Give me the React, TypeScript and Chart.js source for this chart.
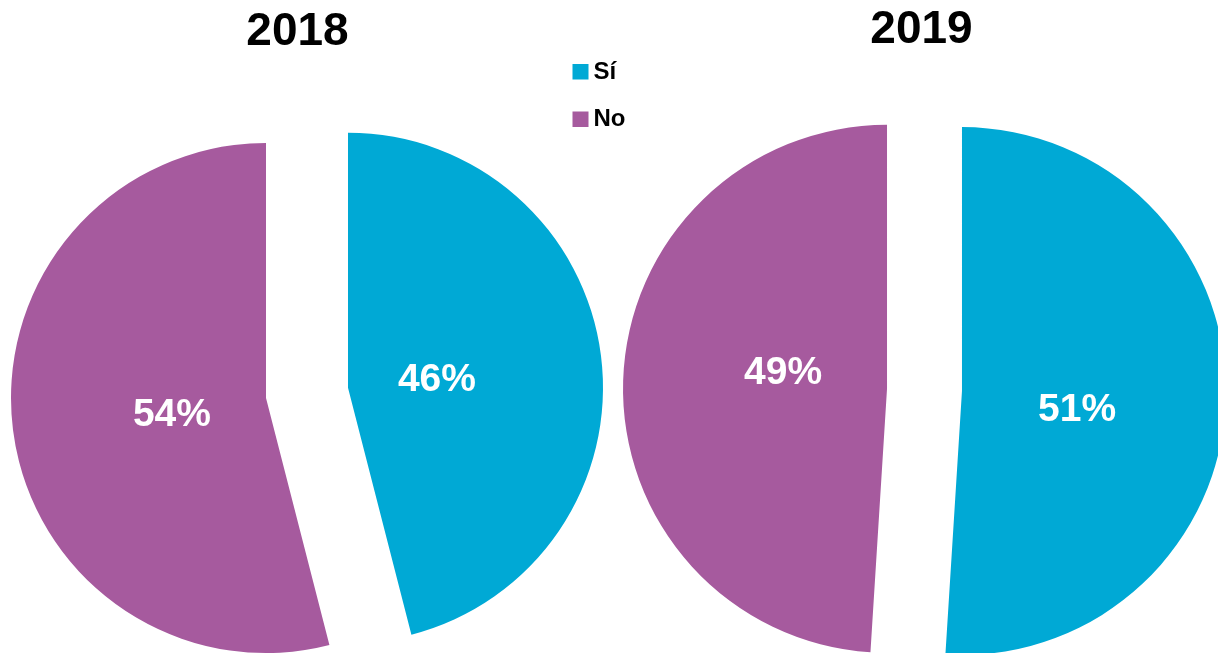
import React, { useEffect, useRef } from "react";
import { Chart, registerables } from "chart.js";

Chart.register(...registerables);

// ---- data ----
const categories = ["Sí", "No"];
const titles = ["2018", "2019"];
const values2018 = [46, 54];
const values2019 = [51, 49];

// ---- styles ----
const BLUE = "#00A9D5";
const PURPLE = "#A65A9E";
const sliceColors = [BLUE, PURPLE];
const FONT = "'Liberation Sans', Arial, Helvetica, sans-serif";

type Placement = { r: number; d: number };

// Draws the library's own arc elements, each pushed out along its bisector,
// then writes the percentage inside every slice.
function makeExplodePlugin(explode: number[], placement: Placement[]) {
  return {
    id: "explodedSlices",
    beforeDatasetDraw(chart: any, args: any) {
      const ctx = chart.ctx;
      args.meta.data.forEach((arc: any, i: number) => {
        const p = arc.getProps(["startAngle", "endAngle"], true);
        const half = (p.startAngle + p.endAngle) / 2;
        ctx.save();
        ctx.translate(Math.cos(half) * explode[i], Math.sin(half) * explode[i]);
        arc.draw(ctx);
        ctx.restore();
      });
      return false;
    },
    afterDatasetsDraw(chart: any) {
      const ctx = chart.ctx;
      const meta = chart.getDatasetMeta(0);
      const ds = chart.data.datasets[0];
      meta.data.forEach((arc: any, i: number) => {
        const p = arc.getProps(["x", "y", "startAngle", "endAngle", "outerRadius"], true);
        const half = (p.startAngle + p.endAngle) / 2;
        const cx = p.x + Math.cos(half) * explode[i];
        const cy = p.y + Math.sin(half) * explode[i];
        const pl = placement[i];
        const a = half + (pl.d * Math.PI) / 180;
        const tx = cx + Math.cos(a) * p.outerRadius * pl.r;
        const ty = cy + Math.sin(a) * p.outerRadius * pl.r + 3;
        ctx.save();
        ctx.fillStyle = "#ffffff";
        ctx.font = `bold 39px ${FONT}`;
        ctx.textAlign = "center";
        ctx.textBaseline = "middle";
        ctx.fillText(`${ds.data[i]}%`, tx, ty);
        ctx.restore();
      });
    },
  };
}

const legendPlugin = {
  id: "sideLegend",
  afterDraw(chart: any) {
    const ctx = chart.ctx;
    const ds = chart.data.datasets[0];
    const left = 572.5;
    const top = 64;
    const boxW = 16;
    const boxH = 15.5;
    const gap = 5;
    const rowGap = 47.5;
    (chart.data.labels as string[]).forEach((lab, i) => {
      const y = top + i * rowGap;
      ctx.save();
      ctx.fillStyle = ds.backgroundColor[i];
      ctx.fillRect(left, y, boxW, boxH);
      ctx.fillStyle = "#000000";
      ctx.font = `bold 24px ${FONT}`;
      ctx.textAlign = "left";
      ctx.textBaseline = "middle";
      ctx.fillText(lab, left + boxW + gap, y + boxH / 2 + 0.5);
      ctx.restore();
    });
  },
};

function makeConfig(
  title: string,
  values: number[],
  explode: number[],
  radius: number,
  padding: any,
  placement: Placement[],
  withLegend: boolean
): any {
  const plugins: any[] = [makeExplodePlugin(explode, placement)];
  if (withLegend) plugins.push(legendPlugin);
  return {
    type: "pie",
    data: {
      labels: categories,
      datasets: [
        {
          data: values,
          backgroundColor: sliceColors,
          borderWidth: 0,
          hoverOffset: 0,
          clip: false,
        },
      ],
    },
    options: {
      responsive: false,
      animation: false,
      devicePixelRatio: 1,
      events: [],
      radius,
      layout: { padding },
      plugins: {
        legend: { display: false },
        tooltip: { enabled: false },
        title: {
          display: true,
          text: title,
          color: "#000000",
          padding: 0,
          font: { family: FONT, size: 46, weight: "bold", lineHeight: 1.2 },
        },
      },
    },
    plugins,
  };
}

export default function App() {
  const leftRef = useRef<HTMLCanvasElement>(null);
  const rightRef = useRef<HTMLCanvasElement>(null);

  useEffect(() => {
    const c1 = new Chart(
      leftRef.current as HTMLCanvasElement,
      makeConfig(
        titles[0],
        values2018,
        [50.9, 31.75],
        255,
        { left: 0, right: 623, top: 5, bottom: 72 },
        [
          { r: 0.351, d: 0.8 },
          { r: 0.373, d: -1.3 },
        ],
        true
      )
    );
    const c2 = new Chart(
      rightRef.current as HTMLCanvasElement,
      makeConfig(
        titles[1],
        values2019,
        [40.5, 34.5],
        264,
        { left: 625, right: 0, top: 2.5, bottom: 78 },
        [
          { r: 0.44, d: 6.1 },
          { r: 0.4, d: 8.4 },
        ],
        false
      )
    );
    return () => {
      c1.destroy();
      c2.destroy();
    };
  }, []);

  return (
    <div
      style={{
        position: "fixed",
        left: 0,
        top: 0,
        width: 1218,
        height: 653,
        overflow: "hidden",
        background: "#ffffff",
      }}
    >
      <canvas ref={leftRef} width={1218} height={800} style={{ position: "absolute", left: 0, top: 0 }} />
      <canvas ref={rightRef} width={1218} height={800} style={{ position: "absolute", left: 0, top: 0 }} />
    </div>
  );
}
